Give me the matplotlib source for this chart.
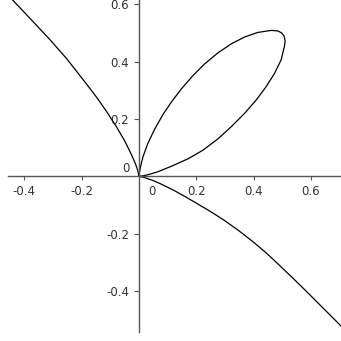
import matplotlib
matplotlib.use('Agg')
import matplotlib.pyplot as plt

# 外侧分支（左上 -> 原点 -> 右下）
outer_x = [-0.475, -0.441, -0.405, -0.369, -0.310, -0.252, -0.194, -0.148, -0.113,
           -0.078, -0.049, -0.025, -0.012, -0.004, 0.0,
           0.005, 0.015, 0.030, 0.050, 0.075, 0.100, 0.120, 0.160, 0.201, 0.250,
           0.294, 0.345, 0.399, 0.445, 0.492, 0.540, 0.585, 0.620, 0.655, 0.701, 0.735]
outer_y = [0.652, 0.615, 0.577, 0.539, 0.476, 0.410, 0.336, 0.276, 0.226,
           0.172, 0.122, 0.073, 0.043, 0.020, 0.0,
           -0.001, -0.003, -0.008, -0.015, -0.026, -0.038, -0.048, -0.070, -0.094, -0.123,
           -0.151, -0.187, -0.229, -0.268, -0.312, -0.358, -0.402, -0.437, -0.472, -0.518, -0.552]

# 环（上沿 -> 顶端 -> 下沿）
loop_x = [0.0, 0.002, 0.007, 0.014, 0.031, 0.055, 0.084, 0.113, 0.148, 0.188, 0.229,
          0.276, 0.322, 0.369, 0.415, 0.462, 0.485, 0.498, 0.506, 0.510, 0.508,
          0.496, 0.473, 0.444, 0.409, 0.369, 0.322, 0.276, 0.223, 0.171, 0.113,
          0.066, 0.037, 0.015, 0.0]
loop_y = [0.0, 0.016, 0.040, 0.068, 0.115, 0.165, 0.216, 0.259, 0.305, 0.351, 0.392,
          0.431, 0.462, 0.486, 0.502, 0.509, 0.507, 0.500, 0.490, 0.474, 0.455,
          0.406, 0.359, 0.313, 0.266, 0.220, 0.173, 0.131, 0.091, 0.061, 0.035,
          0.016, 0.007, 0.002, 0.0]

xticks = [-0.4, -0.2, 0.2, 0.4, 0.6]
yticks = [-0.4, -0.2, 0.2, 0.4, 0.6]
xlim = (-0.457, 0.705)
ylim = (-0.543, 0.615)

fig = plt.figure(figsize=(3.41, 3.41), dpi=100)
ax = fig.add_axes([8 / 341, 9 / 341, 333 / 341, 332 / 341])

ax.plot(outer_x, outer_y, color='black', lw=0.9)
ax.plot(loop_x, loop_y, color='black', lw=0.9)

ax.set_xlim(*xlim)
ax.set_ylim(*ylim)

# 坐标轴交于原点
for side in ['top', 'right']:
    ax.spines[side].set_visible(False)
for side in ['left', 'bottom']:
    ax.spines[side].set_position(('data', 0))
    ax.spines[side].set_color('#555555')
    ax.spines[side].set_linewidth(1.0)

ax.set_xticks(xticks)
ax.set_yticks(yticks)
ax.set_xticklabels([f'{t:g}' for t in xticks])
ax.set_yticklabels([f'{t:g}' for t in yticks])
ax.tick_params(axis='x', direction='out', length=3, width=0.8, color='#555555',
               labelsize=8.5, labelcolor='#333333', pad=3)
ax.tick_params(axis='y', direction='out', length=3.6, width=0.8, color='#555555',
               labelsize=8.5, labelcolor='#333333', pad=3.5)

# 原点处的 0 标签（偏移放置）
ax.annotate('0', xy=(0, 0), xytext=(9.4, -6.2), textcoords='offset points',
            ha='center', va='top', fontsize=8.5, color='#333333')
ax.annotate('0', xy=(0, 0), xytext=(-7.0, 5.8), textcoords='offset points',
            ha='right', va='center', fontsize=8.5, color='#333333')

ax.patch.set_visible(False)
fig.savefig('out.png', dpi=100)
